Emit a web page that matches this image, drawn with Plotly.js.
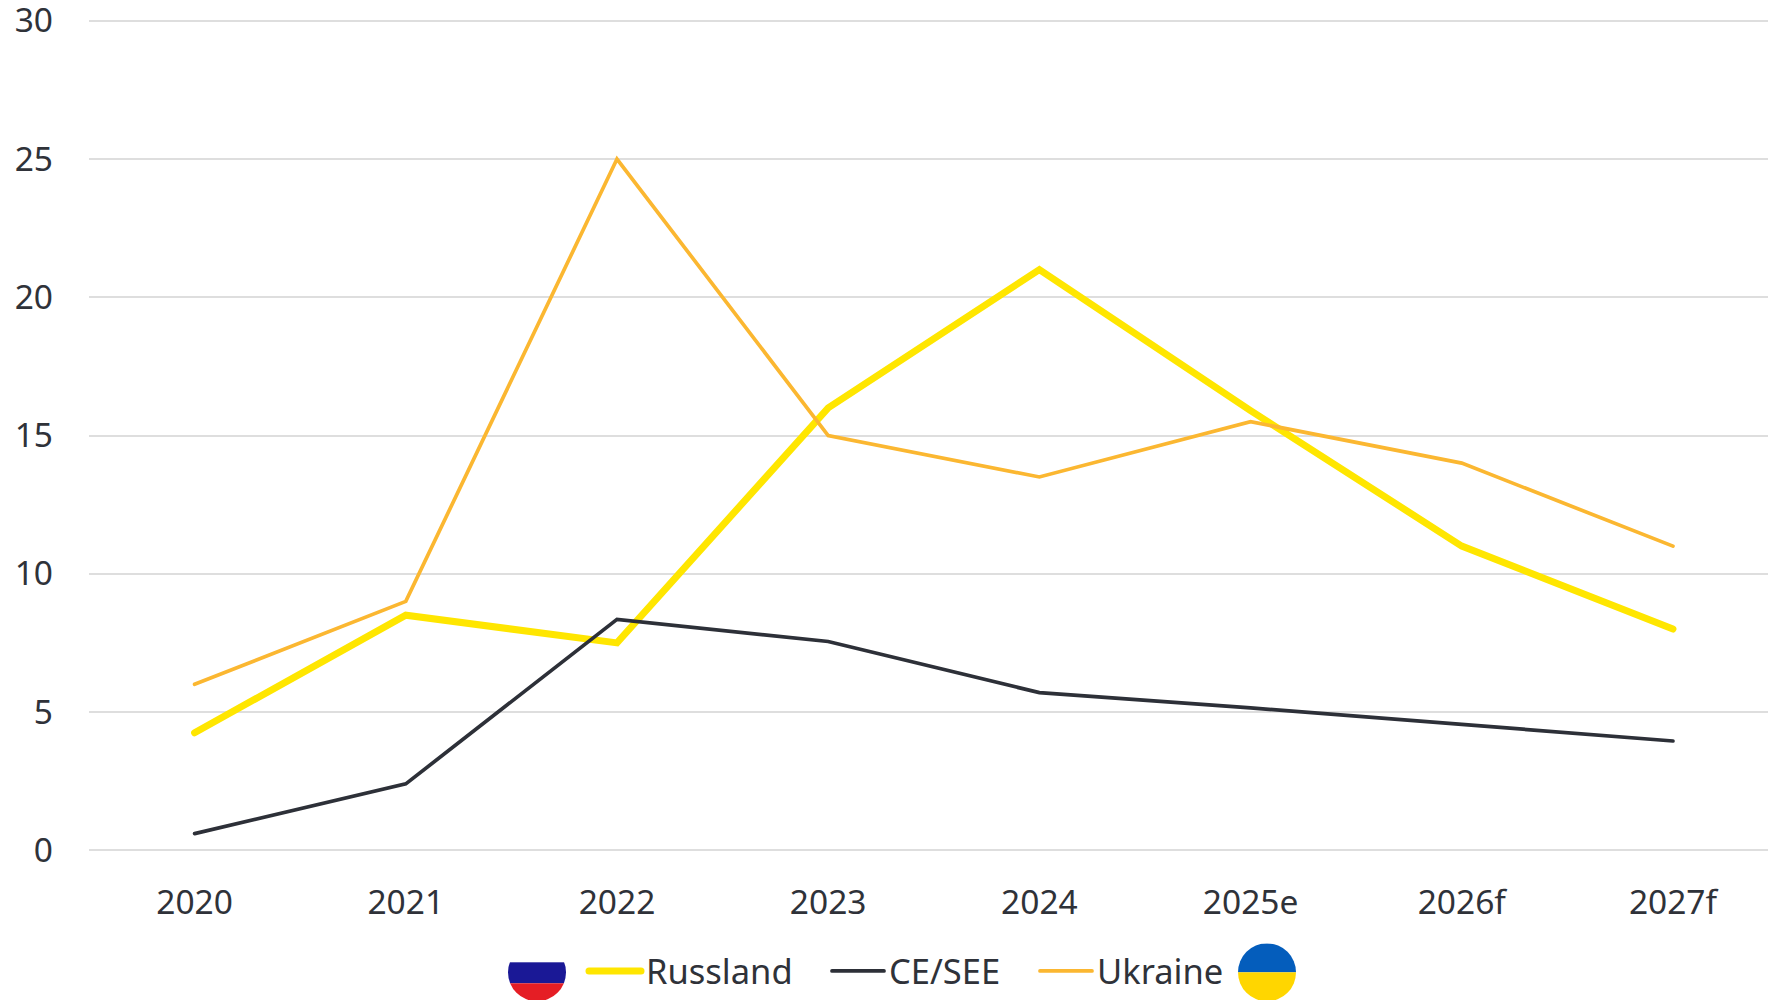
<!DOCTYPE html>
<html>
<head>
<meta charset="utf-8">
<script src="https://cdn.plot.ly/plotly-3.0.1.min.js"></script>
<style>
  html, body { margin: 0; padding: 0; background: #fff; overflow: hidden; }
  #chart { width: 1768px; height: 1000px; }
  .js-line, .legendlines path { stroke-linecap: round; }
</style>
</head>
<body>
<div id="chart"></div>
<script>
// Annual values per region, percent
const years = ['2020', '2021', '2022', '2023', '2024', '2025e', '2026f', '2027f'];
const russland = [4.25, 8.5, 7.5, 16, 21, 15.9, 11, 8];
const ceSee = [0.6, 2.4, 8.35, 7.55, 5.7, 5.15, 4.55, 3.95];
const ukraine = [6, 9, 25, 15, 13.5, 15.5, 14, 11];
const yTicks = [0, 5, 10, 15, 20, 25, 30];

const W = 1768, H = 1000;
// The value range runs a touch past 0 and 30 so both end gridlines stay visible
const yPad = 0.1;
const unitPx = 829 / 30;
const plot = { l: 89, r: 0, t: 21 - yPad * unitPx, b: 150 - yPad * unitPx };
const plotW = W - plot.l - plot.r, plotH = H - plot.t - plot.b;
const textColor = '#2F3239';
const axisFont = { size: 33.5, color: textColor };
const legendFont = { size: 34.5, color: textColor };

// Pixel position on the page to paper coordinates
const paperX = px => (px - plot.l) / plotW;
const paperY = py => (H - plot.b - py) / plotH;

const flag = body => 'data:image/svg+xml;utf8,' + encodeURIComponent(
  `<svg xmlns="http://www.w3.org/2000/svg" width="58" height="58" viewBox="0 0 58 58">` +
  `<defs><clipPath id="c"><circle cx="29" cy="29" r="29"/></clipPath></defs>` +
  `<g clip-path="url(#c)">${body}</g></svg>`);

const flagRussia = flag(
  '<rect width="58" height="19" fill="#fff"/>' +
  '<rect y="19" width="58" height="21" fill="#1A1896"/>' +
  '<rect y="40" width="58" height="18" fill="#E51E25"/>');
const flagUkraine = flag(
  '<rect width="58" height="29" fill="#045DBC"/>' +
  '<rect y="29" width="58" height="29" fill="#FFD600"/>');

const series = [
  { name: 'Russland', y: russland, color: '#FFE600', width: 7, legend: 'legend' },
  { name: 'CE/SEE', y: ceSee, color: '#2D3038', width: 3.7, legend: 'legend2' },
  { name: 'Ukraine', y: ukraine, color: '#FBB731', width: 3.7, legend: 'legend3' }
];

const traces = series.map(s => ({
  type: 'scatter', mode: 'lines', name: s.name, x: years, y: s.y, legend: s.legend,
  line: { color: s.color, width: s.width, shape: 'linear' },
  hoverinfo: 'x+y+name'
}));

// One legend per series so each entry sits at its own place along the bottom row
const legendAt = px => ({
  orientation: 'h', xref: 'container', yref: 'container',
  x: px / W, y: 1 - 971 / H, xanchor: 'left', yanchor: 'middle',
  itemwidth: 52, itemclick: false, itemdoubleclick: false,
  font: legendFont, bgcolor: 'rgba(0,0,0,0)'
});

const layout = {
  width: W, height: H,
  margin: plot,
  paper_bgcolor: '#fff', plot_bgcolor: '#fff',
  font: { family: '"Noto Sans", "Open Sans", sans-serif', size: 34, color: textColor },
  xaxis: {
    type: 'category', categoryorder: 'array', categoryarray: years,
    range: [-0.5, 7.45], showgrid: false, zeroline: false, showline: false,
    ticks: '', ticklabelstandoff: 26, tickfont: axisFont, automargin: false
  },
  yaxis: {
    range: [-yPad, 30 + yPad], tickvals: yTicks, ticktext: yTicks.map(String),
    showgrid: true, gridcolor: '#DEDEDE', gridwidth: 2,
    zeroline: false, showline: false, ticks: '',
    ticklabelstandoff: 35, ticklabeloverflow: 'allow',
    tickfont: axisFont, automargin: false
  },
  showlegend: true,
  legend: legendAt(584),
  legend2: legendAt(827),
  legend3: legendAt(1035),
  images: [
    { source: flagRussia, xref: 'paper', yref: 'paper', x: paperX(508), y: paperY(943),
      sizex: 58 / plotW, sizey: 58 / plotH, xanchor: 'left', yanchor: 'top', layer: 'above' },
    { source: flagUkraine, xref: 'paper', yref: 'paper', x: paperX(1238), y: paperY(943),
      sizex: 58 / plotW, sizey: 58 / plotH, xanchor: 'left', yanchor: 'top', layer: 'above' }
  ]
};

Plotly.newPlot('chart', traces, layout, { displayModeBar: false, responsive: false });
</script>
</body>
</html>
